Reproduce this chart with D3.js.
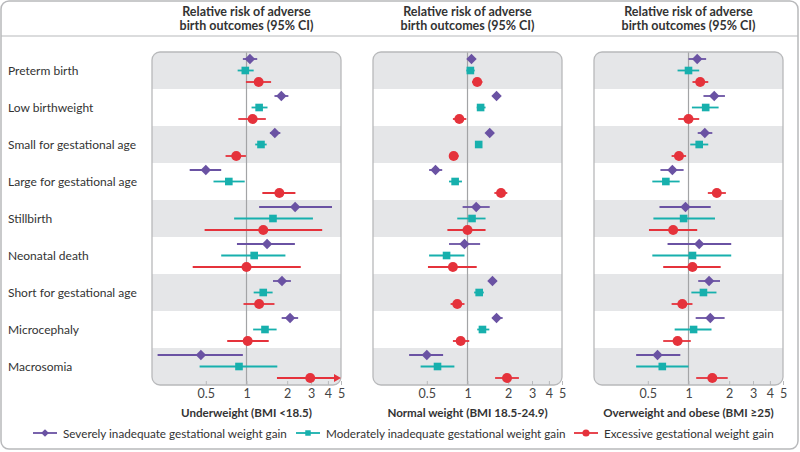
<!DOCTYPE html>
<html>
<head>
<meta charset="utf-8">
<script src="https://cdn.jsdelivr.net/npm/d3@7"></script>
<style>
  body { margin: 0; background: #fff; }
  svg { display: block; font-family: Lato, "Noto Sans", sans-serif; }
</style>
</head>
<body>
<svg id="chart" width="800" height="452"></svg>
<script>
// outcomes (rows), top to bottom
var outcomes = ['Preterm birth', 'Low birthweight', 'Small for gestational age', 'Large for gestational age',
  'Stillbirth', 'Neonatal death', 'Short for gestational age', 'Microcephaly', 'Macrosomia'];

var series = ['Severely inadequate gestational weight gain', 'Moderately inadequate gestational weight gain',
  'Excessive gestational weight gain'];

var panelTitles = ['Underweight (BMI <18.5)', 'Normal weight (BMI 18.5-24.9)', 'Overweight and obese (BMI \u226525)'];

var tickValues = [0.5, 1, 2, 3, 4, 5];

// [relative risk, lower CI, upper CI] per outcome
var underweightSevere = [[1.06, 0.94, 1.20], [1.81, 1.61, 2.04], [1.62, 1.49, 1.78], [0.50, 0.38, 0.65], [2.29, 1.24, 4.29],
  [1.42, 0.85, 2.28], [1.83, 1.57, 2.13], [2.10, 1.82, 2.41], [0.46, 0.22, 0.94]];
var underweightModerate = [[0.98, 0.86, 1.13], [1.24, 1.09, 1.43], [1.28, 1.16, 1.41], [0.74, 0.57, 0.97], [1.57, 0.81, 3.10],
  [1.14, 0.65, 1.94], [1.33, 1.13, 1.56], [1.37, 1.12, 1.67], [0.88, 0.45, 1.69]];
var underweightExcessive = [[1.23, 0.99, 1.52], [1.11, 0.87, 1.39], [0.84, 0.70, 0.99], [1.75, 1.31, 2.30], [1.33, 0.49, 3.63],
  [1.00, 0.40, 2.52], [1.24, 0.95, 1.61], [1.02, 0.72, 1.46], [2.96, 1.68, 5.60]];

var normalSevere = [[1.07, 1.02, 1.12], [1.64, 1.57, 1.71], [1.46, 1.42, 1.52], [0.58, 0.52, 0.65], [1.16, 0.92, 1.46],
  [0.95, 0.73, 1.24], [1.53, 1.45, 1.64], [1.64, 1.53, 1.82], [0.50, 0.37, 0.66]];
var normalModerate = [[1.05, 0.98, 1.13], [1.25, 1.17, 1.36], [1.21, 1.17, 1.27], [0.81, 0.73, 0.91], [1.08, 0.84, 1.36],
  [0.70, 0.52, 0.95], [1.22, 1.12, 1.32], [1.29, 1.18, 1.45], [0.60, 0.45, 0.80]];
var normalExcessive = [[1.18, 1.08, 1.29], [0.87, 0.78, 0.98], [0.79, 0.75, 0.86], [1.77, 1.58, 1.97], [1.00, 0.71, 1.36],
  [0.78, 0.51, 1.17], [0.84, 0.75, 0.95], [0.89, 0.78, 1.03], [1.96, 1.60, 2.40]];

var overweightSevere = [[1.16, 1.00, 1.35], [1.55, 1.29, 1.86], [1.32, 1.17, 1.50], [0.76, 0.62, 0.92], [0.95, 0.61, 1.46],
  [1.20, 0.70, 2.07], [1.42, 1.18, 1.71], [1.45, 1.13, 1.85], [0.59, 0.41, 0.87]];
var overweightModerate = [[1.00, 0.83, 1.20], [1.34, 1.06, 1.67], [1.20, 1.03, 1.40], [0.68, 0.54, 0.86], [0.92, 0.55, 1.57],
  [1.07, 0.54, 2.07], [1.29, 1.05, 1.61], [1.09, 0.79, 1.48], [0.64, 0.41, 1.00]];
var overweightExcessive = [[1.22, 1.07, 1.40], [1.00, 0.84, 1.20], [0.85, 0.75, 0.96], [1.62, 1.39, 1.89], [0.77, 0.51, 1.16],
  [1.07, 0.65, 1.73], [0.90, 0.75, 1.07], [0.83, 0.65, 1.04], [1.50, 1.14, 1.95]];

var panelData = [
  [underweightSevere, underweightModerate, underweightExcessive],
  [normalSevere, normalModerate, normalExcessive],
  [overweightSevere, overweightModerate, overweightExcessive]
];

var colors = ['#6a52a3', '#17b0ad', '#e5323b'];
var textColor = '#333';
var frameColor = '#b8b9bb';
var bandColor = '#e5e6e8';

var svg = d3.select('#chart');

var panelLeft = [152, 373, 594];
var panelWidth = 189;
var plotTop = 52, plotBottom = 385;

var y = d3.scaleBand().domain(outcomes).range([plotTop, plotBottom]);
var offset = d3.scalePoint().domain(series).range([-11.5, 11.5]);

// outer frame and header rule
svg.append('rect')
  .attr('x', 1).attr('y', 1).attr('width', 797).attr('height', 448)
  .attr('rx', 8).attr('fill', 'none').attr('stroke', frameColor).attr('stroke-width', 1.5);
svg.append('line')
  .attr('x1', 1).attr('x2', 798).attr('y1', 36).attr('y2', 36)
  .attr('stroke', frameColor).attr('stroke-width', 1.2);

// row labels
svg.append('g').selectAll('text').data(outcomes).enter()
  .append('text')
  .attr('x', 8)
  .attr('y', function(d) { return y(d) + y.bandwidth() / 2 + 4.5; })
  .attr('fill', textColor)
  .attr('font-size', 12)
  .text(function(d) { return d; });

var symbols = [
  d3.symbol().type(d3.symbolSquare).size(54),
  d3.symbol().type(d3.symbolSquare).size(58),
  d3.symbol().type(d3.symbolCircle).size(78)
];

panelData.forEach(function(groups, p) {
  var x0 = panelLeft[p];
  var x = d3.scaleLog().domain([0.2, 5]).range([x0, x0 + panelWidth]);
  var cx = x0 + panelWidth / 2;

  var g = svg.append('g');

  var clipId = 'clip' + p;
  g.append('clipPath').attr('id', clipId)
    .append('rect')
    .attr('x', x0).attr('y', plotTop).attr('width', panelWidth).attr('height', plotBottom - plotTop).attr('rx', 8);

  // stripes
  g.append('g').attr('clip-path', 'url(#' + clipId + ')')
    .selectAll('rect').data(outcomes).enter()
    .append('rect')
    .attr('x', x0).attr('width', panelWidth)
    .attr('y', function(d) { return y(d); })
    .attr('height', y.bandwidth())
    .attr('fill', function(d, i) { return i % 2 === 0 ? bandColor : '#fff'; });

  // reference line at 1
  g.append('line')
    .attr('x1', x(1)).attr('x2', x(1)).attr('y1', plotTop).attr('y2', plotBottom)
    .attr('stroke', '#a3a4a6').attr('stroke-width', 1.2);

  g.append('rect')
    .attr('x', x0).attr('y', plotTop).attr('width', panelWidth).attr('height', plotBottom - plotTop)
    .attr('rx', 8).attr('fill', 'none').attr('stroke', frameColor).attr('stroke-width', 1.3);

  // axis
  var axis = g.append('g')
    .attr('transform', 'translate(0,' + plotBottom + ')')
    .call(d3.axisBottom(x).tickValues(tickValues).tickFormat(d3.format('')).tickSizeInner(-4).tickSizeOuter(0).tickPadding(4));
  axis.select('.domain').remove();
  axis.selectAll('line').attr('stroke', frameColor);
  axis.selectAll('text').attr('font-size', 12.5).attr('fill', '#444').attr('font-family', 'Lato, "Noto Sans", sans-serif');

  // header
  var header = g.append('text')
    .attr('x', cx).attr('text-anchor', 'middle')
    .attr('font-weight', 'bold').attr('font-size', 12.5).attr('fill', textColor);
  header.append('tspan').attr('x', cx).attr('y', 16).text('Relative risk of adverse');
  header.append('tspan').attr('x', cx).attr('y', 30).text('birth outcomes (95% CI)');

  g.append('text')
    .attr('x', cx).attr('y', 417).attr('text-anchor', 'middle')
    .attr('font-weight', 'bold').attr('font-size', 11.6).attr('fill', textColor)
    .text(panelTitles[p]);

  // markers
  groups.forEach(function(values, s) {
    var sg = g.append('g');
    var items = values.map(function(v, i) { return { outcome: outcomes[i], rr: v[0], lo: v[1], hi: v[2] }; });
    var yy = function(d) { return y(d.outcome) + y.bandwidth() / 2 + offset(series[s]); };

    sg.selectAll('line').data(items).enter()
      .append('line')
      .attr('x1', function(d) { return x(d.lo); })
      .attr('x2', function(d) { return x(Math.min(d.hi, 5)) - (d.hi > 5 ? 5 : 0); })
      .attr('y1', yy).attr('y2', yy)
      .attr('stroke', colors[s]).attr('stroke-width', 1.8);

    sg.selectAll('path.arrow').data(items.filter(function(d) { return d.hi > 5; })).enter()
      .append('path').attr('class', 'arrow')
      .attr('d', function(d) {
        var xe = x(5), ye = yy(d);
        return 'M' + xe + ',' + ye + 'L' + (xe - 7) + ',' + (ye - 4) + 'L' + (xe - 7) + ',' + (ye + 4) + 'Z';
      })
      .attr('fill', colors[s]);

    sg.selectAll('path.mark').data(items).enter()
      .append('path').attr('class', 'mark')
      .attr('d', symbols[s])
      .attr('transform', function(d) {
        return 'translate(' + x(d.rr) + ',' + yy(d) + ')' + (s === 0 ? ' rotate(45)' : '');
      })
      .attr('fill', colors[s]);
  });
});

// legend
var legendX = [33, 296, 574];
var legend = svg.append('g').selectAll('g').data(series).enter()
  .append('g')
  .attr('transform', function(d, i) { return 'translate(' + legendX[i] + ',433)'; });
legend.append('line')
  .attr('x1', 0).attr('x2', 24)
  .attr('stroke', function(d, i) { return colors[i]; }).attr('stroke-width', 1.8);
legend.append('path')
  .attr('d', function(d, i) { return d3.symbol().type(i === 2 ? d3.symbolCircle : d3.symbolSquare).size(i === 2 ? 40 : 30)(); })
  .attr('transform', function(d, i) { return 'translate(12,0)' + (i === 0 ? ' rotate(45)' : ''); })
  .attr('fill', function(d, i) { return colors[i]; });
legend.append('text')
  .attr('x', 30).attr('y', 4.5)
  .attr('font-size', 11.7).attr('fill', textColor)
  .text(function(d) { return d; });
</script>
</body>
</html>
